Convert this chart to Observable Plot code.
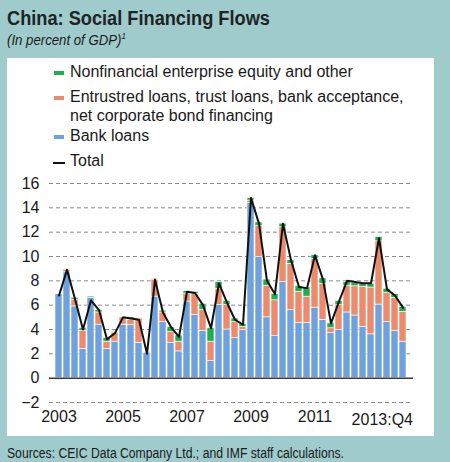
<!DOCTYPE html>
<html><head><meta charset="utf-8">
<script src="https://cdn.jsdelivr.net/npm/d3@7"></script>
<script src="https://cdn.jsdelivr.net/npm/@observablehq/plot@0.6"></script>
<style>
body{margin:0;width:450px;height:462px;background:#9fcbcc;position:relative;overflow:hidden;font-family:"Liberation Sans",Arial,sans-serif;color:#1a1a1a}
.t{position:absolute;white-space:nowrap;line-height:1;transform-origin:0 0}
#title{left:7px;top:8px;font-size:20px;font-weight:bold;transform:scaleX(0.91);color:#1e2424}
#sub{left:7px;top:32px;font-size:15px;font-style:italic;transform:scaleX(0.88)}
#sub sup{font-size:9px;vertical-align:6px;line-height:0}
#panel{position:absolute;left:7px;top:58px;width:427px;height:378px;background:#fff}
.leg{font-size:16px;left:70px}
.sw{position:absolute;left:54px;width:10px;height:4px}
#src{left:7px;top:446px;font-size:14px;transform:scaleX(0.87)}
#chart{position:absolute;left:0;top:170px}
</style></head>
<body>
<div id="panel"></div>
<div class="t" id="title">China: Social Financing Flows</div>
<div class="t" id="sub">(In percent of GDP)<sup>1</sup></div>
<div class="sw" style="top:70.5px;background:#1fae4f"></div>
<div class="t leg" style="top:64px">Nonfinancial enterprise equity and other</div>
<div class="sw" style="top:95.5px;background:#e98b6c"></div>
<div class="t leg" style="top:89px">Entrustred loans, trust loans, bank acceptance,</div>
<div class="t leg" style="top:108.4px">net corporate bond financing</div>
<div class="sw" style="top:135px;background:#6fa1dc"></div>
<div class="t leg" style="top:128.4px">Bank loans</div>
<div class="sw" style="top:161.5px;left:53px;width:12px;height:2px;background:#111"></div>
<div class="t leg" style="top:153.4px">Total</div>
<div id="chart"></div>
<div class="t" id="src">Sources: CEIC Data Company Ltd.; and IMF staff calculations.</div>
<script>
const years = [2003,2004,2005,2006,2007,2008,2009,2010,2011,2012,2013];
const quarters = years.flatMap(y => ["Q1","Q2","Q3","Q4"].map(q => `${y}:${q}`));

const bankLoans = [6.9, 8.7, 5.9, 2.4, 6.6, 4.4, 2.4, 3.0, 4.4, 4.35, 2.9, 2.1,
  6.7, 4.6, 2.9, 2.2, 6.3, 5.2, 3.9, 1.4, 6.0, 4.0, 3.3, 3.95,
  14.4, 9.95, 5.0, 3.45, 7.9, 5.6, 4.55, 4.55, 5.8, 4.8, 3.7, 3.95,
  5.4, 5.15, 4.2, 3.6, 6.05, 4.6, 3.9, 3.0];
const entrusted = [-0.15, 0.2, 0.55, 1.5, -0.15, 1.0, 0.6, 0.7, 0.6, 0.45, 2.0, -0.15,
  1.4, 0.8, 0.9, 0.8, 0.65, 1.7, 1.7, 1.6, 1.35, 2.0, 1.3, 0.25,
  0.2, 2.55, 2.6, 2.95, 4.5, 3.8, 2.55, 2.15, 4.0, 2.95, 0.4, 2.05,
  2.2, 2.4, 3.3, 3.85, 5.2, 2.4, 2.7, 2.45];
const equity = [0.05, 0.05, 0.15, 0.2, 0.1, 0.2, 0.3, 0.1, 0.05, 0.2, 0.05, 0.05,
  0.05, 0.15, 0.4, 0.5, 0.2, 0.2, 0.5, 1.1, 0.55, 0.35, 0.3, 0.25,
  0.2, 0.3, 0.5, 0.5, 0.3, 0.3, 0.45, 0.75, 0.3, 0.45, 0.4, 0.35,
  0.3, 0.25, 0.25, 0.3, 0.35, 0.35, 0.3, 0.4];
const total = [6.8, 8.9, 6.5, 4.0, 6.4, 5.6, 3.2, 3.7, 5.0, 4.9, 4.8, 2.0,
  8.1, 5.4, 4.2, 3.4, 7.1, 7.0, 6.0, 4.1, 7.8, 6.2, 4.8, 4.4,
  14.8, 12.7, 8.0, 6.9, 12.7, 9.7, 7.5, 7.4, 10.1, 8.1, 4.5, 6.3,
  8.0, 7.9, 7.8, 7.8, 11.5, 7.3, 6.8, 5.8];

const seriesNames = ["Bank loans", "Entrusted", "Equity"];
const seriesColors = ["#6fa1dc", "#e98b6c", "#1fae4f"];
const yTicks = [-2, 0, 2, 4, 6, 8, 10, 12, 14, 16];
const yearTickQuarters = ["2003:Q1","2005:Q1","2007:Q1","2009:Q1","2011:Q1"];
const yearTickLabels = ["2003","2005","2007","2009","2011"];
const endTickQuarter = "2013:Q4";
const endTickLabel = "2013:Q4";

const rows = [];
quarters.forEach((q, i) => {
  rows.push({q, series: seriesNames[0], v: bankLoans[i]});
  rows.push({q, series: seriesNames[1], v: entrusted[i]});
  rows.push({q, series: seriesNames[2], v: equity[i]});
});
const totalRows = quarters.map((q, i) => ({q, total: total[i]}));
const xLabelRows = yearTickQuarters.map((q, i) => ({q, label: yearTickLabels[i]}));

const chart = Plot.plot({
  width: 434, height: 260,
  marginLeft: 49, marginRight: 21, marginTop: 13, marginBottom: 28,
  style: {background: "transparent", fontFamily: "Liberation Sans, Arial, sans-serif", overflow: "visible"},
  x: {type: "band", domain: quarters, paddingInner: 0.12, paddingOuter: 0.03, axis: null},
  y: {domain: [-2, 16], axis: null},
  color: {domain: seriesNames, range: seriesColors},
  marks: [
    Plot.gridY(yTicks.filter(d => d !== 0), {stroke: "#8a8a8a", strokeOpacity: 1, strokeDasharray: "4,3", strokeWidth: 1}),
    Plot.axisY(yTicks, {tickSize: 0, tickPadding: 10, fontSize: 16, fill: "#1a1a1a", label: null}),
    Plot.barY(rows, {x: "q", y: "v", fill: "series", order: seriesNames, stroke: "white", strokeWidth: 0.6}),
    Plot.ruleY([0], {stroke: "#3a3a3a", strokeWidth: 1.5}),
    Plot.line(totalRows, {x: "q", y: "total", stroke: "#111", strokeWidth: 2}),
    Plot.text(xLabelRows, {x: "q", y: -2, text: "label", dy: 14, fontSize: 16, fill: "#1a1a1a"}),
    Plot.text([{q: endTickQuarter, label: endTickLabel}], {x: "q", y: -2, text: "label", dy: 17, dx: 10, textAnchor: "end", fontSize: 16, fill: "#1a1a1a"})
  ]
});
document.getElementById("chart").appendChild(chart);
</script>
</body></html>
